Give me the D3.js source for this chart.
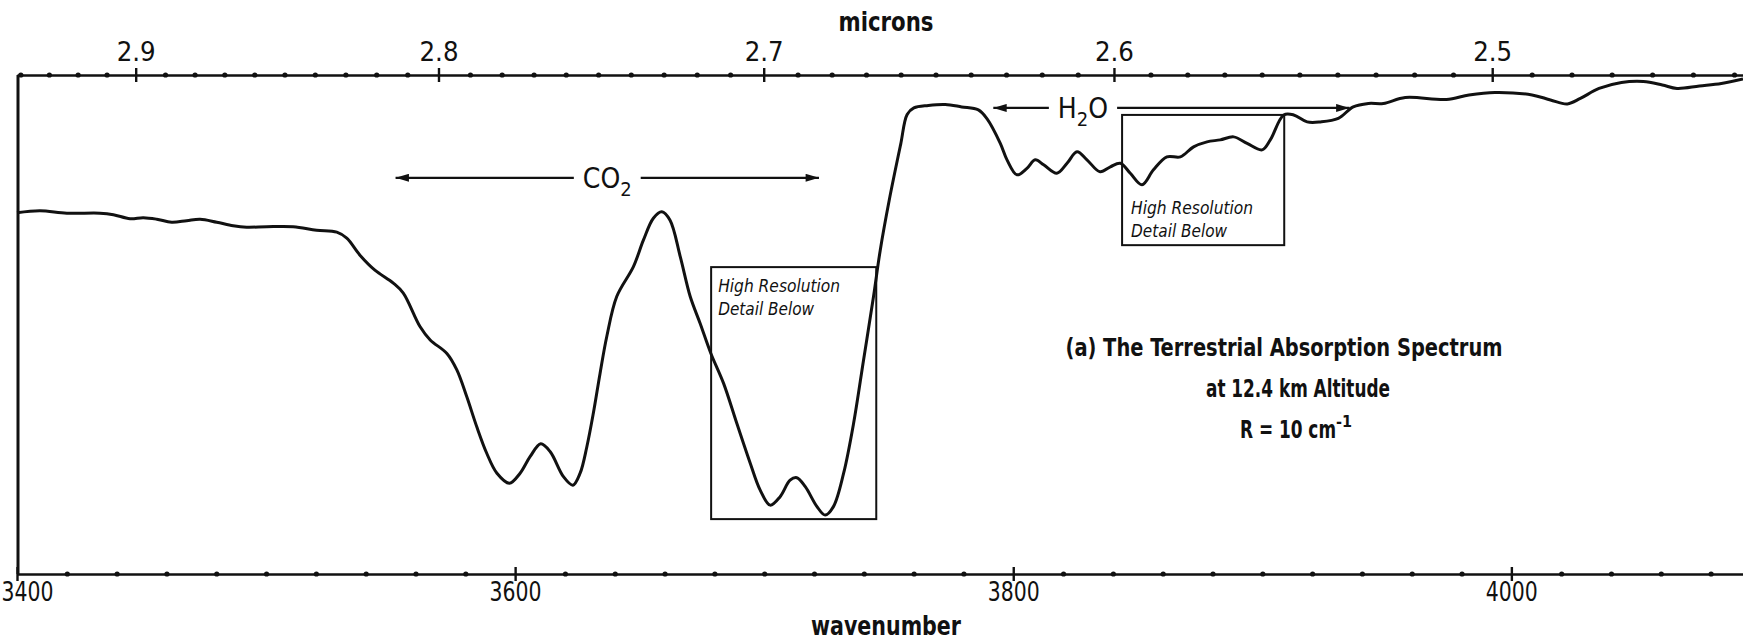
<!DOCTYPE html>
<meta charset="utf-8">
<script src="https://d3js.org/d3.v7.min.js"></script>
<style>
  body { margin: 0; background: #fff; }
  text { font-family: "DejaVu Sans Condensed", "DejaVu Sans", sans-serif; fill: #111; }
</style>
<div id="chart"></div>
<script>
// spectrum: wavenumber (cm-1) and relative transmission (0 = bottom axis, 1 = top axis)
var wavenumber = [3400, 3409.2, 3420, 3433.3, 3438.7, 3445.4, 3450.7, 3456.1, 3462.1, 3468.1, 3473.5,
  3480.2, 3486.8, 3492.2, 3500.3, 3510.9, 3520.3, 3528.4, 3532.4, 3537.7, 3543.7,
  3551.1, 3555.1, 3561.8, 3565.9, 3572.6, 3576.6, 3580.6, 3584.6, 3588.6, 3592.7,
  3597.7, 3602, 3606, 3610.3, 3614.1, 3619.4, 3623.2, 3626.1, 3628.8, 3631.4, 3634.1, 3636.8,
  3640.8, 3647.5, 3651.5, 3655.5, 3658.9, 3662.2, 3666.3, 3670.3, 3674.3, 3678.6, 3683.7, 3689,
  3694.4, 3698.4, 3702.4, 3706.4, 3710.4, 3713.1, 3716.5, 3721.2, 3724.5, 3727.8, 3731.9, 3735.9,
  3739.9, 3743.9, 3746.6, 3750.2, 3754.8, 3757.4, 3760.1, 3765.9, 3772.7, 3779.3, 3786, 3789.5,
  3794.8, 3797.5, 3801.5, 3805.5, 3808.8, 3812.2, 3817.5, 3821.6, 3825.6, 3829.6, 3834.9, 3839,
  3843, 3847, 3851.7, 3856.3, 3861.7, 3867.1, 3872.4, 3877.8, 3883.1, 3888.5, 3893.9, 3899.9,
  3903.2, 3908.6, 3912.6, 3918, 3923.3, 3930.5, 3936.5, 3942.6, 3948.6, 3957.4, 3973.9, 3983,
  3993.4, 4008.3, 4015.7, 4022.5, 4027.7, 4035.2, 4044.2, 4053, 4060.6, 4066.5, 4075.5, 4084.3, 4093];
var transmission = [0.724, 0.728, 0.723, 0.723, 0.720, 0.712, 0.714, 0.711, 0.705, 0.708, 0.711,
  0.705, 0.698, 0.695, 0.696, 0.696, 0.689, 0.685, 0.673, 0.639, 0.609,
  0.583, 0.563, 0.496, 0.469, 0.442, 0.409, 0.355, 0.295, 0.242, 0.202,
  0.182, 0.202, 0.235, 0.261, 0.245, 0.195, 0.178, 0.202, 0.255, 0.322, 0.402, 0.476,
  0.556, 0.616, 0.669, 0.713, 0.726, 0.709, 0.636, 0.556, 0.502, 0.442, 0.382, 0.302,
  0.222, 0.168, 0.138, 0.155, 0.188, 0.193, 0.175, 0.135, 0.118, 0.135, 0.202, 0.302,
  0.429, 0.556, 0.649, 0.749, 0.861, 0.921, 0.934, 0.939, 0.941, 0.936, 0.930, 0.912,
  0.863, 0.830, 0.800, 0.813, 0.830, 0.820, 0.803, 0.823, 0.846, 0.830, 0.806, 0.816,
  0.823, 0.803, 0.780, 0.810, 0.836, 0.836, 0.856, 0.866, 0.870, 0.876, 0.863, 0.850,
  0.870, 0.920, 0.920, 0.906, 0.906, 0.913, 0.936, 0.943, 0.943, 0.955, 0.951, 0.960,
  0.965, 0.960, 0.950, 0.942, 0.953, 0.973, 0.985, 0.987, 0.980, 0.973, 0.978, 0.983, 0.992];

// axis ticks
var wnMajor = [3400, 3600, 3800, 4000];
var wnMinor = d3.range(3420, 4093, 20).filter(function(d){ return d % 200 != 0; });
var micronMajor = [2.9, 2.8, 2.7, 2.6, 2.5];
var micronMinor = d3.range(244, 295).map(function(d){ return d / 100; }).filter(function(d){ return Math.round(d*100) % 10 != 0; });

// annotations
var bandNames = ["CO", "H"];
var bandSub = ["2", "2"];
var bandTail = ["", "O"];
var bandArrowFrom = [3552, 3792];
var bandArrowTo = [3722, 3935];
var bandLabelAt = [3637, 3828];
var bandLevel = [0.794, 0.934];
var boxLeft = [3678.7, 3843.7];
var boxRight = [3745, 3908.8];
var boxTop = [0.615, 0.920];
var boxBottom = [0.110, 0.659];
var titleLines = ["(a)  The  Terrestrial  Absorption  Spectrum", "at  12.4  km  Altitude"];

var width = 1743, height = 641;
var svg = d3.select("#chart").append("svg")
  .attr("width", width)
  .attr("height", height);
svg.append("rect").attr("width", width).attr("height", height).attr("fill", "#fff");

var x = d3.scaleLinear().domain([3400, 4093]).range([17, 1743]);
// the micron scale of the original is drawn a little compressed against the wavenumber one
var xTop = d3.scaleLinear().domain([3400, 4102]).range([17, 1743]);
var y = d3.scaleLinear().domain([0, 1]).range([574, 75]);

// bottom axis (wavenumber)
var bottomMinor = svg.append("g")
  .attr("transform", "translate(0," + y(0) + ")")
  .call(d3.axisBottom(x).tickValues(wnMinor).tickSize(0).tickFormat(""));
bottomMinor.select(".domain").attr("stroke", "#111").attr("stroke-width", 2.6);
bottomMinor.selectAll(".tick").append("circle").attr("r", 2.6).attr("fill", "#111");

var bottomMajor = svg.append("g")
  .attr("transform", "translate(0," + y(0) + ")")
  .call(d3.axisBottom(x).tickValues(wnMajor).tickSize(7).tickPadding(1).tickFormat(d3.format("d")));
bottomMajor.select(".domain").remove();
bottomMajor.selectAll(".tick line").attr("y1", -7).attr("stroke", "#111").attr("stroke-width", 2.4);
bottomMajor.selectAll(".tick text")
  .attr("font-size", 27)
  .attr("font-family", null)
  .attr("fill", "#111")
  .attr("textLength", 52)
  .attr("lengthAdjust", "spacingAndGlyphs");
bottomMajor.selectAll(".tick text").filter(function(d){ return d == 3400; })
  .attr("text-anchor", "start").attr("x", -16);

// top axis (microns)
var topMinor = svg.append("g")
  .attr("transform", "translate(0," + y(1) + ")")
  .call(d3.axisTop(xTop).tickValues(micronMinor.map(function(m){ return 1e4 / m; })).tickSize(0).tickFormat(""));
topMinor.select(".domain").attr("stroke", "#111").attr("stroke-width", 2.6);
topMinor.selectAll(".tick").append("circle").attr("r", 2.6).attr("fill", "#111");

var topMajor = svg.append("g")
  .attr("transform", "translate(0," + y(1) + ")")
  .call(d3.axisTop(xTop).tickValues(micronMajor.map(function(m){ return 1e4 / m; }))
    .tickSize(7).tickPadding(7)
    .tickFormat(function(d){ return (1e4 / d).toFixed(1); }));
topMajor.select(".domain").remove();
topMajor.selectAll(".tick line").attr("y1", 7).attr("stroke", "#111").attr("stroke-width", 2.4);
topMajor.selectAll(".tick text")
  .attr("font-size", 27)
  .attr("font-family", null)
  .attr("fill", "#111")
  .attr("textLength", 39)
  .attr("lengthAdjust", "spacingAndGlyphs");

// left frame line
svg.append("line")
  .attr("x1", x(3400) + 1).attr("x2", x(3400) + 1)
  .attr("y1", y(1)).attr("y2", y(0))
  .attr("stroke", "#111").attr("stroke-width", 3);

// axis titles
svg.append("text").attr("x", 886).attr("y", 31).attr("text-anchor", "middle")
  .attr("font-size", 26).attr("font-weight", "bold")
  .attr("textLength", 95).attr("lengthAdjust", "spacingAndGlyphs").text("microns");
svg.append("text").attr("x", 886).attr("y", 635).attr("text-anchor", "middle")
  .attr("font-size", 26).attr("font-weight", "bold")
  .attr("textLength", 150).attr("lengthAdjust", "spacingAndGlyphs").text("wavenumber");

// spectrum line
var line = d3.line()
  .x(function(d){ return x(d[0]); })
  .y(function(d){ return y(d[1]); })
  .curve(d3.curveCatmullRom.alpha(0.5));
svg.append("path")
  .datum(wavenumber.map(function(w, i){ return [w, transmission[i]]; }))
  .attr("d", line)
  .attr("fill", "none")
  .attr("stroke", "#111")
  .attr("stroke-width", 3);

// arrowheads
var defs = svg.append("defs");
defs.append("marker").attr("id", "head")
  .attr("viewBox", "0 0 10 6").attr("refX", 10).attr("refY", 3)
  .attr("markerWidth", 16).attr("markerHeight", 8)
  .attr("markerUnits", "userSpaceOnUse")
  .attr("orient", "auto")
  .append("path").attr("d", "M0,0 L10,3 L0,6 Z").attr("fill", "#111");

bandNames.forEach(function(name, i) {
  var lx = x(bandLabelAt[i]), ly = y(bandLevel[i]);
  var label = svg.append("text")
    .attr("x", lx).attr("y", ly + 10)
    .attr("text-anchor", "middle")
    .attr("font-size", 28);
  label.append("tspan").text(name);
  label.append("tspan").attr("font-size", 20).attr("dy", 8).text(bandSub[i]);
  label.append("tspan").attr("dy", -8).text(bandTail[i]);
  var bb = label.node().getBBox();
  svg.append("line")
    .attr("x1", bb.x - 9).attr("x2", x(bandArrowFrom[i]))
    .attr("y1", ly).attr("y2", ly)
    .attr("stroke", "#111").attr("stroke-width", 2.2)
    .attr("marker-end", "url(#head)");
  svg.append("line")
    .attr("x1", bb.x + bb.width + 9).attr("x2", x(bandArrowTo[i]))
    .attr("y1", ly).attr("y2", ly)
    .attr("stroke", "#111").attr("stroke-width", 2.2)
    .attr("marker-end", "url(#head)");

  // high resolution boxes
  svg.append("rect")
    .attr("x", x(boxLeft[i])).attr("y", y(boxTop[i]))
    .attr("width", x(boxRight[i]) - x(boxLeft[i]))
    .attr("height", y(boxBottom[i]) - y(boxTop[i]))
    .attr("fill", "none").attr("stroke", "#111").attr("stroke-width", 2);
});

// box captions
[[boxLeft[0], boxTop[0], 7, 25], [boxLeft[1], boxBottom[1], 9, -31]].forEach(function(p) {
  var t = svg.append("text")
    .attr("font-size", 17).attr("font-style", "italic")
    .attr("transform", "translate(" + (x(p[0]) + p[2]) + "," + (y(p[1]) + p[3]) + ")");
  t.append("tspan").attr("x", 0).attr("y", 0).attr("textLength", 122).attr("lengthAdjust", "spacingAndGlyphs").text("High Resolution");
  t.append("tspan").attr("x", 0).attr("y", 23).text("Detail Below");
});

// title block
var title = svg.append("g").attr("transform", "translate(1284,356)");
var titleWidths = [437, 184];
title.selectAll("text.tl").data(titleLines).enter().append("text")
  .attr("class", "tl")
  .attr("x", function(d, i){ return i * 14; })
  .attr("y", function(d, i){ return i * 41; })
  .attr("text-anchor", "middle")
  .attr("font-size", 25)
  .attr("font-weight", "bold")
  .attr("textLength", function(d, i){ return titleWidths[i]; })
  .attr("lengthAdjust", "spacingAndGlyphs")
  .text(function(d){ return d; });
var r = title.append("text").attr("y", 82).attr("x", 12).attr("text-anchor", "middle")
  .attr("font-size", 25).attr("font-weight", "bold");
r.append("tspan").attr("textLength", 96).attr("lengthAdjust", "spacingAndGlyphs").text("R  =  10  cm");
r.append("tspan").attr("font-size", 16).attr("dy", -11).text("-1");
</script>
